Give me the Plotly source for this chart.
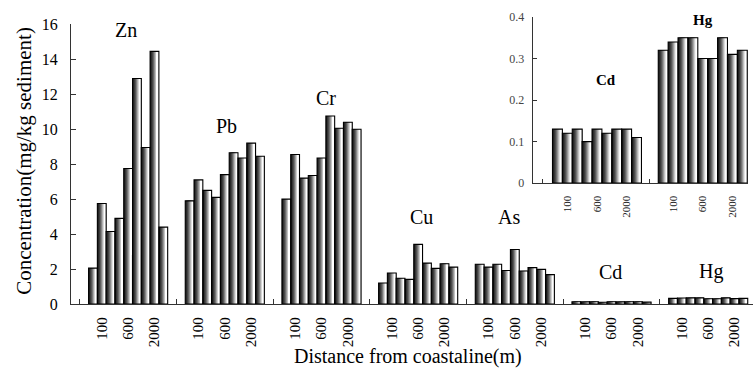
import plotly.graph_objects as go

# ---- data ----
elements = ["Zn", "Pb", "Cr", "Cu", "As", "Cd", "Hg"]
zn = [2.05, 5.75, 4.15, 4.9, 7.75, 12.9, 8.95, 14.45, 4.4]
pb = [5.9, 7.1, 6.5, 6.1, 7.4, 8.65, 8.35, 9.2, 8.45]
cr = [6.0, 8.55, 7.2, 7.35, 8.35, 10.75, 10.05, 10.4, 10.0]
cu = [1.2, 1.77, 1.47, 1.41, 3.41, 2.34, 2.04, 2.3, 2.11]
as_ = [2.27, 2.11, 2.27, 1.92, 3.12, 1.89, 2.08, 1.98, 1.68]
cd = [0.13, 0.12, 0.13, 0.10, 0.13, 0.12, 0.13, 0.13, 0.11]
hg = [0.32, 0.34, 0.35, 0.35, 0.30, 0.30, 0.35, 0.31, 0.32]
main_series = [zn, pb, cr, cu, as_, cd, hg]
inset_elements = ["Cd", "Hg"]
inset_series = [cd, hg]
tick_idx = [1, 4, 7]
tick_text = ["100", "600", "2000"]

FONT = "Liberation Serif, Times New Roman, serif"
GROUP = 11          # slots per group in main chart
IGROUP = 10.7       # group step in inset

# layered gradient: (start fraction of bar, colour); each layer covers start -> right edge
layers = [(0.00, "#141414"), (0.10, "#2c2c2c"), (0.20, "#404040"), (0.30, "#5a5a5a"),
          (0.40, "#7c7c7c"), (0.50, "#a2a2a2"), (0.60, "#cacaca"), (0.70, "#ececec"),
          (0.78, "#ffffff")]

main_x, main_y = [], []
for g, vals in enumerate(main_series):
    for i, v in enumerate(vals):
        main_x.append(g * GROUP + i)
        main_y.append(v)
ins_x, ins_y = [], []
for g, vals in enumerate(inset_series):
    for i, v in enumerate(vals):
        ins_x.append(g * IGROUP + i)
        ins_y.append(v)

fig = go.Figure()
for xs, ys, xa, ya in [(main_x, main_y, "x", "y"), (ins_x, ins_y, "x2", "y2")]:
    for start, c in layers:
        # layer spans from `start` (fraction of the bar) to the bar's right edge
        fig.add_trace(go.Bar(x=[p + start / 2.0 for p in xs], y=ys, width=1.0 - start,
                             marker=dict(color=c, line=dict(width=0)),
                             xaxis=xa, yaxis=ya, showlegend=False, hoverinfo="skip"))
    fig.add_trace(go.Bar(x=xs, y=ys, width=1.0,
                         marker=dict(color="rgba(0,0,0,0)", line=dict(color="black", width=1.1)),
                         xaxis=xa, yaxis=ya, showlegend=False))

main_tickvals = [g * GROUP + t for g in range(len(main_series)) for t in tick_idx]
main_ticktext = tick_text * len(main_series)
main_minor = [g * GROUP - 1.5 for g in range(len(main_series))]
ins_tickvals = [g * IGROUP + t for g in range(len(inset_series)) for t in tick_idx]
ins_ticktext = tick_text * len(inset_series)
ins_minor = [-1.5, 9.35]

axis_line = dict(showline=True, linecolor="#333", linewidth=1.3, showgrid=False, zeroline=False,
                 automargin=False)

fig.update_layout(
    width=755, height=383,
    margin=dict(l=71, r=2, t=17, b=79),
    paper_bgcolor="white", plot_bgcolor="white",
    barmode="overlay",
    font=dict(family=FONT, color="black"),
    xaxis=dict(domain=[0, 1], range=[-2.5, 75.1], tickmode="array", tickvals=main_tickvals,
               ticktext=main_ticktext, ticks="", tickangle=-90, ticklabelstandoff=6,
               tickfont=dict(size=15, family=FONT),
               minor=dict(tickmode="array", tickvals=main_minor, ticks="inside", ticklen=5,
                          tickcolor="#333", tickwidth=1),
               anchor="y", **axis_line),
    yaxis=dict(domain=[0, 0.9746], range=[0, 16], tickmode="array",
               tickvals=[0, 2, 4, 6, 8, 10, 12, 14, 16], ticks="inside", ticklen=5,
               ticklabelstandoff=9,
               tickcolor="#333", tickfont=dict(size=16, family=FONT), anchor="x", **axis_line),
    xaxis2=dict(domain=[0.677, 0.993], range=[-2.5, 19.3], tickmode="array", tickvals=ins_tickvals,
                ticktext=ins_ticktext, ticks="", tickangle=-90, ticklabelstandoff=7,
                tickfont=dict(size=11, color="#222", family=FONT),
                minor=dict(tickmode="array", tickvals=ins_minor, ticks="inside", ticklen=4,
                           tickcolor="#333", tickwidth=1),
                anchor="y2", **axis_line),
    yaxis2=dict(domain=[0.421, 1.0], range=[0, 0.4], tickmode="array",
                tickvals=[0, 0.1, 0.2, 0.3, 0.4], ticktext=["0", "0.1", "0.2", "0.3", "0.4"],
                ticks="inside", ticklen=4, tickcolor="#333", ticklabelstandoff=5,
                tickfont=dict(size=12, color="#444", family=FONT), anchor="x2", **axis_line),
)

# element labels (main)
main_label_pos = [(3.8, 15.66), (15.2, 10.2), (26.5, 11.8), (37.4, 5.0), (47.3, 5.0),
                  (58.9, 1.85), (70.3, 1.85)]
for name, (lx, ly) in zip(elements, main_label_pos):
    fig.add_annotation(x=lx, y=ly, xref="x", yref="y", text=name, showarrow=False,
                       font=dict(size=20, family=FONT, color="black"))
ins_label_pos = [(4.96, 0.248), (14.7, 0.392)]
for name, (lx, ly) in zip(inset_elements, ins_label_pos):
    fig.add_annotation(x=lx, y=ly, xref="x2", yref="y2", text="<b>" + name + "</b>",
                       showarrow=False, font=dict(size=15, family=FONT, color="black"))

fig.add_annotation(x=-0.07, y=0.5, xref="paper", yref="paper", xanchor="center", yanchor="middle",
                   text="Concentration(mg/kg sediment)", textangle=-90, showarrow=False,
                   font=dict(size=21, family=FONT, color="black"))
fig.add_annotation(x=0.494, y=-0.184, xref="paper", yref="paper", xanchor="center", yanchor="middle",
                   text="Distance from coastaline(m)", showarrow=False,
                   font=dict(size=20, family=FONT, color="black"))

fig.write_html("out.html", config={"displayModeBar": False},
               post_script="document.body.style.margin='0';")
